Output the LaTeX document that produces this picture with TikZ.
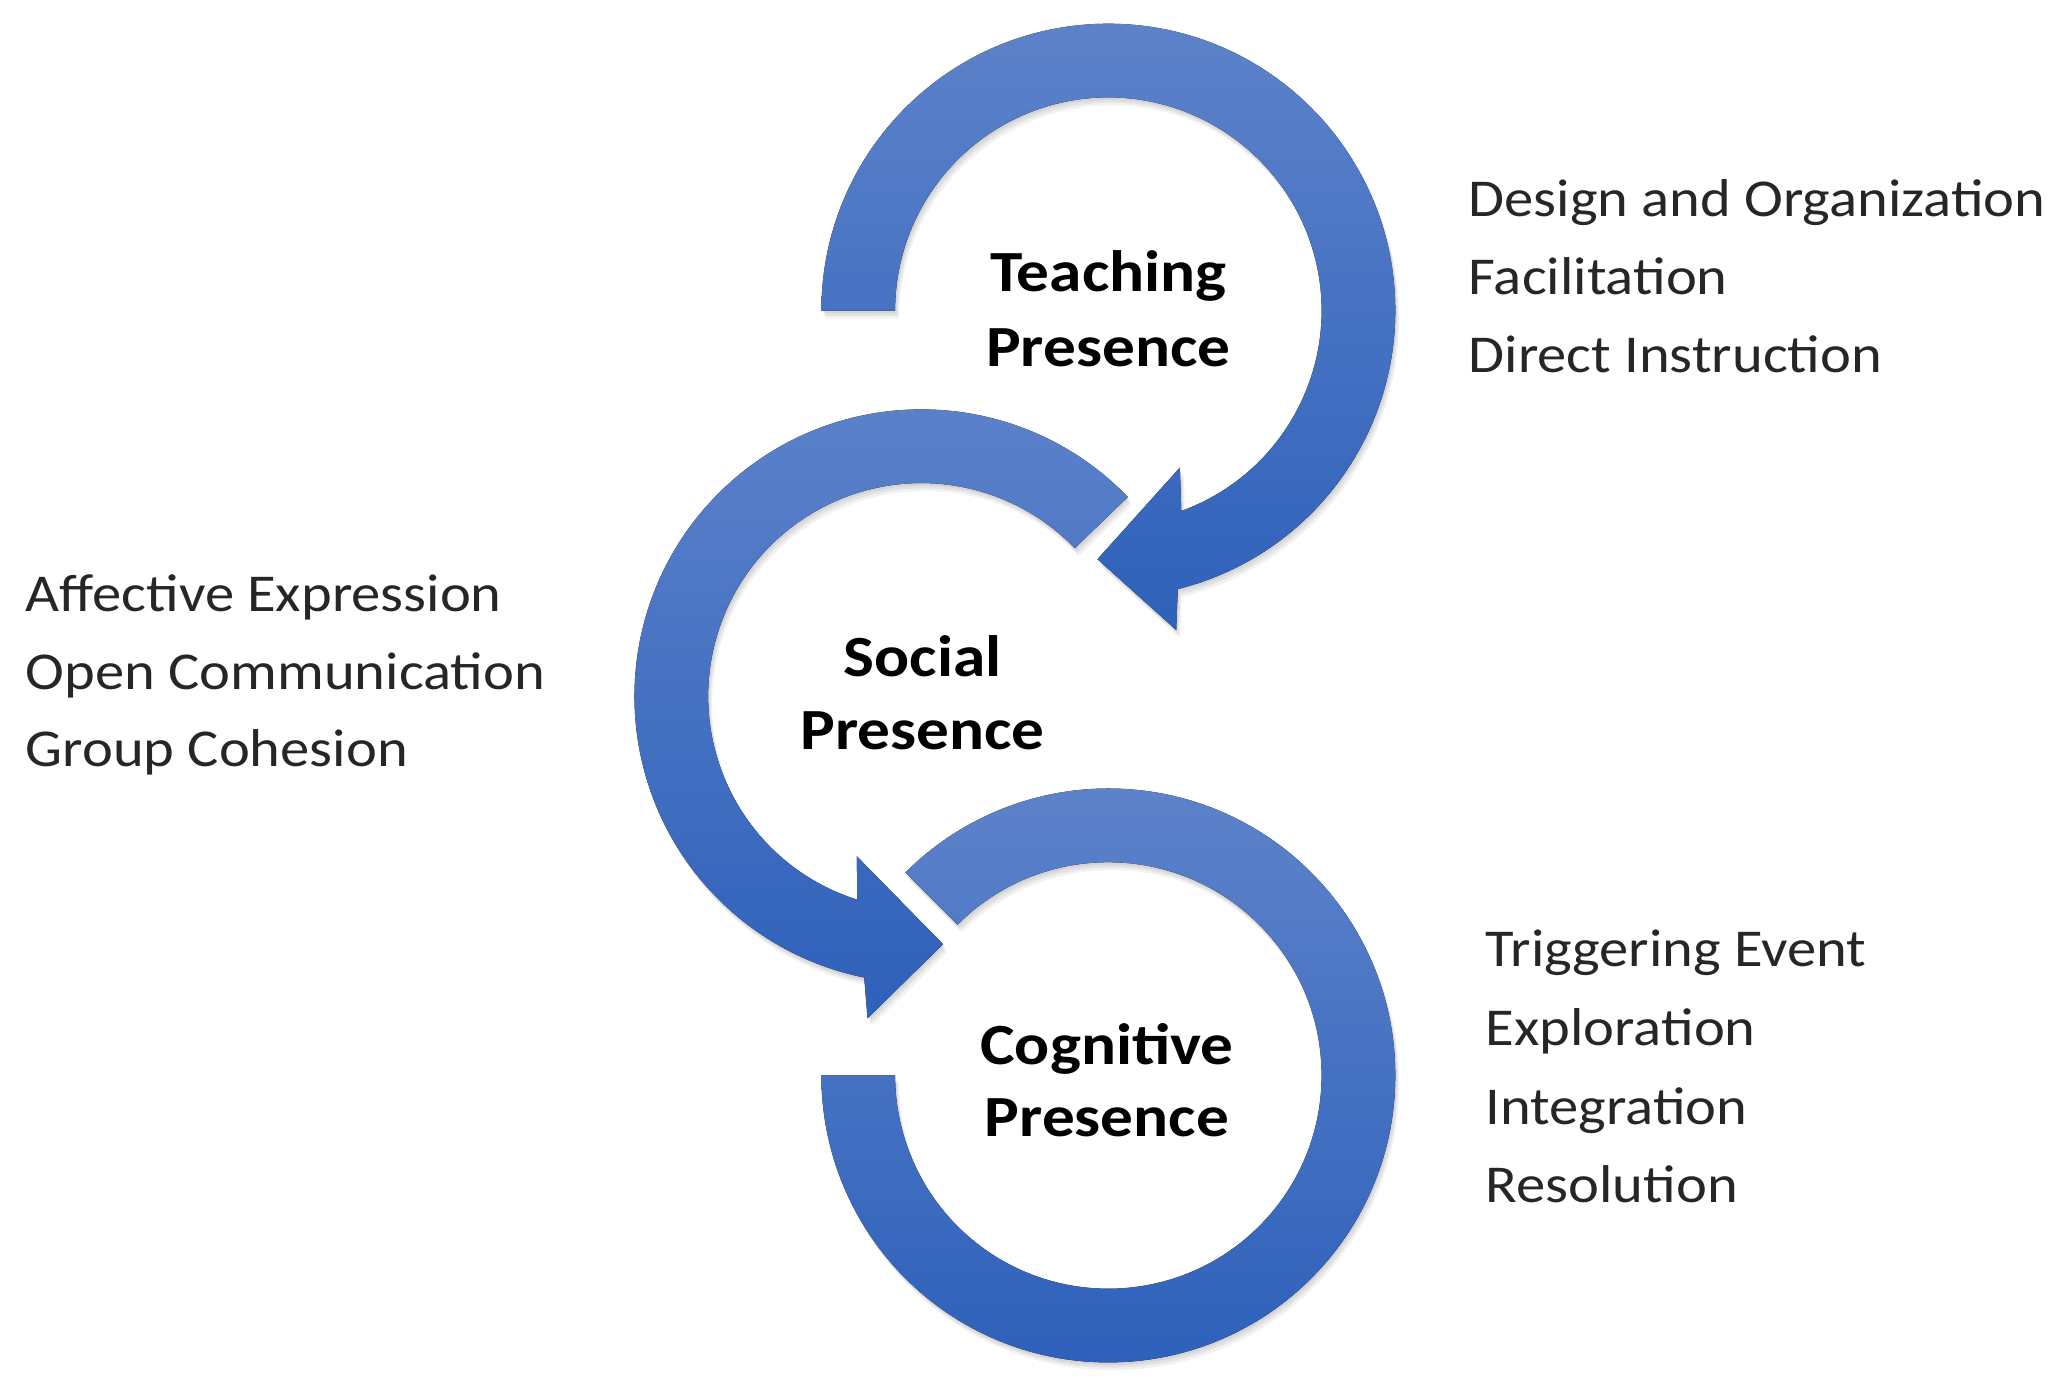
\documentclass[tikz,border=0pt]{standalone}
\usepackage{fontspec}
\setmainfont{Carlito}
\newfontfamily\listfont[FakeStretch=1.1]{Carlito}
\newfontfamily\labfont[FakeStretch=1.12]{Carlito}
\definecolor{arctop}{RGB}{93,130,202}
\definecolor{arcbot}{RGB}{46,97,186}
\definecolor{txtgray}{RGB}{38,38,38}
\tikzset{
  softshadow/.style={
    preaction={fill=black, opacity=0.06, transform canvas={shift={(1,-2)}}},
    preaction={fill=black, opacity=0.06, transform canvas={shift={(2,-4)}}},
    preaction={fill=black, opacity=0.05, transform canvas={shift={(3,-6)}}}},
  arcfill/.style={softshadow, top color=arctop, bottom color=arcbot, draw=none},
  listtext/.style={anchor=base west, inner sep=0pt, text=txtgray,
    font=\listfont\fontsize{11.5}{14}\selectfont},
  labtext/.style={anchor=base, inner sep=0pt, text=black,
    font=\labfont\bfseries\fontsize{12.6}{15}\selectfont},
}
\begin{document}
\begin{tikzpicture}[x=0.01cm,y=0.01cm]
\fill[white] (0,0) rectangle (1568,1062);
\useasboundingbox (0,0) rectangle (1568,1062);

% Teaching Presence arc
\begin{scope}[shift={(842,826)}]
\fill[arcfill] (180:218) arc[start angle=180, end angle=-76, radius=218]
  -- (-78:248) -- (-92.5:189) -- (-65.5:131) -- (-70:162)
  arc[start angle=-70, end angle=180, radius=162] -- cycle;
\end{scope}

% Social Presence arc
\begin{scope}[shift={(700,533)}]
\fill[arcfill] (44:218) arc[start angle=44, end angle=258.5, radius=218]
  -- (260.5:248) -- (275:189) -- (248:131) -- (252.5:162)
  arc[start angle=252.5, end angle=44, radius=162] -- cycle;
\end{scope}

% Cognitive Presence arc
\begin{scope}[shift={(842,245)}]
\fill[arcfill] (180:218) arc[start angle=180, end angle=495, radius=218]
  -- (135:162) arc[start angle=495, end angle=180, radius=162] -- cycle;
\end{scope}

% centre labels
\node[labtext] (tpa) at (842,840.4) {Teaching};
\node[labtext] (tpb) at (842,783.4) {Presence};
\node[labtext] (spa) at (701,548.4) {Social};
\node[labtext] (spb) at (701,492.4) {Presence};
\node[labtext] (cpa) at (841,253.4) {Cognitive};
\node[labtext] (cpb) at (841,198.4) {Presence};

% teaching list
\node[listtext] (t1) at (1115,897.4) {Design and Organization};
\node[listtext] (t2) at (1115,838.5) {Facilitation};
\node[listtext] (t3) at (1115,778.7) {Direct Instruction};

% social list
\node[listtext] (s1) at (19,597.4) {Affective Expression};
\node[listtext] (s2) at (19,538.4) {Open Communication};
\node[listtext] (s3) at (19,479.4) {Group Cohesion};

% cognitive list
\node[listtext] (c1) at (1128,327.4) {Triggering Event};
\node[listtext] (c2) at (1128,267.4) {Exploration};
\node[listtext] (c3) at (1128,207.4) {Integration};
\node[listtext] (c4) at (1128,148.4) {Resolution};
\end{tikzpicture}
\end{document}
